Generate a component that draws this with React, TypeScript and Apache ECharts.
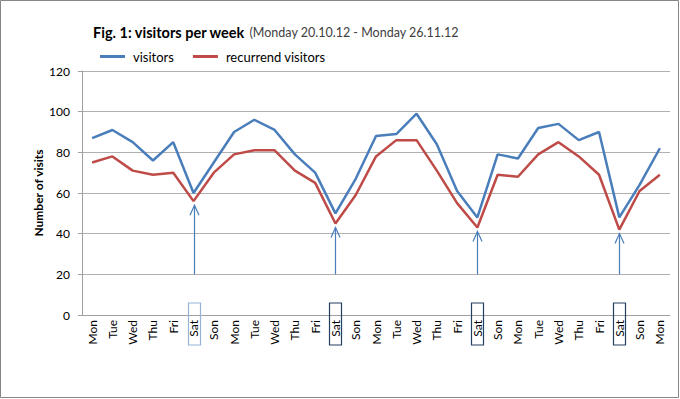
import React, { useEffect, useRef } from "react";
import * as echarts from "echarts";

const days: string[] = [
  "Mon", "Tue", "Wed", "Thu", "Fri", "Sat", "Son",
  "Mon", "Tue", "Wed", "Thu", "Fri", "Sat", "Son",
  "Mon", "Tue", "Wed", "Thu", "Fri", "Sat", "Son",
  "Mon", "Tue", "Wed", "Thu", "Fri", "Sat", "Son",
  "Mon",
];
const visitors: number[] = [87, 91, 85, 76, 85, 60, 75, 90, 96, 91, 79, 70, 50, 67, 88, 89, 99, 84, 61, 48, 79, 77, 92, 94, 86, 90, 48, 64, 82];
const recurrend: number[] = [75, 78, 71, 69, 70, 56, 70, 79, 81, 81, 71, 65, 45, 59, 78, 86, 86, 71, 55, 43, 69, 68, 79, 85, 78, 69, 42, 61, 69];
const saturdayIdx: number[] = [5, 12, 19, 26];
const boxColors: string[] = ["#95b3d7", "#243f60", "#243f60", "#243f60"];
const arrowBase = 20;
const yTicks = { min: 0, max: 120, interval: 20 };

const FONT = "Lato";

export default function App() {
  const ref = useRef<HTMLDivElement>(null);
  useEffect(() => {
    if (!ref.current) return;
    const chart = echarts.init(ref.current, undefined, { renderer: "svg" });
    const option: any = {
      animation: false,
      backgroundColor: "#ffffff",
      textStyle: { fontFamily: FONT },
      title: {
        left: 88,
        top: 18,
        text: "{b|Fig. 1: visitors per week} {n|(Monday 20.10.12 - Monday 26.11.12}",
        textStyle: {
          rich: {
            b: { fontFamily: FONT, fontWeight: "bold", fontSize: 14.5, color: "#000000" },
            n: { fontFamily: FONT, fontWeight: "normal", fontSize: 12.5, color: "#404040" },
          },
        },
      },
      legend: {
        left: 95,
        top: 45,
        icon: "rect",
        itemWidth: 25,
        itemHeight: 3,
        itemGap: 19,
        data: ["visitors", "recurrend visitors"],
        textStyle: { fontFamily: FONT, fontSize: 13, color: "#000000", padding: [0, 0, 0, 3] },
      },
      grid: { left: 82, right: 10, top: 71, bottom: 84 },
      xAxis: {
        type: "category",
        data: days,
        boundaryGap: true,
        axisLine: { lineStyle: { color: "#a0a0a0", width: 1 } },
        axisTick: { show: false },
        axisLabel: {
          rotate: 90,
          interval: 0,
          margin: 5,
          fontFamily: FONT,
          fontSize: 12,
          color: "#000000",
        },
      },
      yAxis: {
        type: "value",
        min: yTicks.min,
        max: yTicks.max,
        interval: yTicks.interval,
        name: "Number of visits",
        nameLocation: "middle",
        nameRotate: 90,
        nameGap: 38,
        nameMoveOverlap: false,
        nameTextStyle: { fontFamily: FONT, fontWeight: "bold", fontSize: 12, color: "#000000" },
        axisLine: { show: true, lineStyle: { color: "#a0a0a0", width: 1 } },
        axisTick: { show: true, length: 4, lineStyle: { color: "#a0a0a0" } },
        splitLine: { lineStyle: { color: "#b0b0b0", width: 1 } },
        axisLabel: { margin: 12, fontFamily: FONT, fontSize: 12, color: "#000000" },
      },
      series: [
        {
          name: "visitors",
          type: "line",
          data: visitors,
          symbol: "none",
          color: "#4a7ebb",
          lineStyle: { color: "#4a7ebb", width: 2.5 },
        },
        {
          name: "recurrend visitors",
          type: "line",
          data: recurrend,
          symbol: "none",
          color: "#be4b48",
          lineStyle: { color: "#be4b48", width: 2.5 },
        },
        {
          name: "markers",
          type: "custom",
          data: saturdayIdx.map((i) => [i, recurrend[i]]),
          renderItem: (params: any, api: any) => {
            const idx = api.value(0);
            const val = api.value(1);
            const base = api.coord([idx, arrowBase]);
            const top = api.coord([idx, val]);
            const zero = api.coord([idx, 0]);
            const x = Math.round(base[0]) + 0.5;
            const tipY = top[1] + 4;
            const color = boxColors[params.dataIndex];
            return {
              type: "group",
              children: [
                {
                  type: "line",
                  shape: { x1: x, y1: base[1], x2: x, y2: tipY },
                  style: { stroke: "#4a7ebb", lineWidth: 1.2 },
                },
                {
                  type: "polyline",
                  shape: { points: [[x - 4.5, tipY + 10], [x, tipY], [x + 4.5, tipY + 10]] },
                  style: { stroke: "#4a7ebb", lineWidth: 1.2, fill: "none" },
                },
                {
                  type: "rect",
                  shape: { x: x - 6, y: zero[1] - 12, width: 12, height: 42 },
                  style: { stroke: color, lineWidth: 1.2, fill: "none" },
                },
              ],
            };
          },
          z: 5,
        },
      ],
      graphic: [
        {
          type: "rect",
          shape: { x: 0.5, y: 0.5, width: 678, height: 397 },
          style: { stroke: "#868686", fill: "none", lineWidth: 1 },
          silent: true,
        },
      ],
    };
    chart.setOption(option);
    return () => chart.dispose();
  }, []);
  return (
    <div
      ref={ref}
      style={{ position: "absolute", left: 0, top: 0, width: 680, height: 399 }}
    />
  );
}
